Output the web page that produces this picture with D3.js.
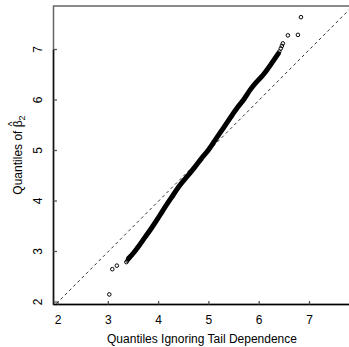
<!DOCTYPE html>
<html>
<head>
<meta charset="utf-8">
<script src="https://cdn.jsdelivr.net/npm/d3@7"></script>
<style>
  html, body { margin: 0; padding: 0; background: #fff; }
  text { font-family: "Liberation Sans", Arial, Helvetica, sans-serif; fill: #000; }
</style>
</head>
<body>
<div id="chart"></div>
<script>
// ticks
const xTicks = [2, 3, 4, 5, 6, 7];
const yTicks = [2, 3, 4, 5, 6, 7];

// dense middle of the Q-Q cloud
const bandX = [3.40, 3.50, 3.60, 3.72, 3.85, 3.97, 4.09, 4.25, 4.43, 4.58, 4.72, 4.85, 4.99, 5.12, 5.27, 5.42, 5.56, 5.70, 5.82, 5.96, 6.08, 6.15, 6.27, 6.38];
const bandY = [2.86, 2.97, 3.10, 3.27, 3.45, 3.63, 3.82, 4.06, 4.32, 4.50, 4.67, 4.84, 5.01, 5.20, 5.42, 5.64, 5.84, 6.02, 6.20, 6.37, 6.50, 6.59, 6.76, 6.92];

// sparse tail points
const tailX = [3.02, 3.08, 3.17, 3.36, 3.38, 3.40, 3.43, 3.47, 6.40, 6.43, 6.45, 6.47, 6.57, 6.77, 6.83];
const tailY = [2.15, 2.65, 2.72, 2.79, 2.82, 2.85, 2.88, 2.93, 6.96, 7.02, 7.07, 7.12, 7.28, 7.29, 7.64];

const W = 349, H = 347;
const plot = { left: 53.5, right: 352, top: 6, bottom: 304.5 };

const x = d3.scaleLinear().domain([2, 7]).range([58, 309.5]);
const y = d3.scaleLinear().domain([2, 7]).range([302, 49.5]);

const svg = d3.select('#chart').append('svg')
  .attr('width', W)
  .attr('height', H);

svg.append('defs').append('clipPath')
  .attr('id', 'clip')
  .append('rect')
  .attr('x', plot.left)
  .attr('y', plot.top)
  .attr('width', plot.right - plot.left)
  .attr('height', plot.bottom - plot.top);

const g = svg.append('g').attr('clip-path', 'url(#clip)');

// y = x reference line
g.append('line')
  .attr('x1', x(1.8)).attr('y1', y(1.8))
  .attr('x2', x(8)).attr('y2', y(8))
  .attr('stroke', '#333')
  .attr('stroke-width', 1)
  .attr('stroke-dasharray', '3,3');

// dense band
const line = d3.line()
  .x((d, i) => x(bandX[i]))
  .y((d, i) => y(bandY[i]))
  .curve(d3.curveMonotoneX);

g.append('path')
  .datum(bandX)
  .attr('d', line)
  .attr('fill', 'none')
  .attr('stroke', '#000')
  .attr('stroke-width', 5)
  .attr('stroke-linecap', 'round')
  .attr('stroke-linejoin', 'round');

// open circles
g.selectAll('circle.pt')
  .data(tailX)
  .enter()
  .append('circle')
  .attr('class', 'pt')
  .attr('cx', d => x(d))
  .attr('cy', (d, i) => y(tailY[i]))
  .attr('r', 1.8)
  .attr('fill', 'none')
  .attr('stroke', '#000')
  .attr('stroke-width', 1);

// box
svg.append('path')
  .attr('d', `M${plot.right},${plot.top}H${plot.left}V${plot.bottom}H${plot.right}`)
  .attr('fill', 'none')
  .attr('stroke', '#666')
  .attr('stroke-width', 1.5);

// axis lines (first to last tick)
svg.append('line')
  .attr('x1', plot.left).attr('x2', plot.left)
  .attr('y1', y(7)).attr('y2', plot.bottom)
  .attr('stroke', '#111').attr('stroke-width', 1.5);
svg.append('line')
  .attr('x1', plot.left).attr('x2', plot.right)
  .attr('y1', plot.bottom).attr('y2', plot.bottom)
  .attr('stroke', '#000').attr('stroke-width', 1.5);

// x ticks (inward)
svg.selectAll('line.xt')
  .data(xTicks)
  .enter()
  .append('line')
  .attr('class', 'xt')
  .attr('x1', d => x(d)).attr('x2', d => x(d))
  .attr('y1', plot.bottom).attr('y2', plot.bottom - 3.5)
  .attr('stroke', '#555').attr('stroke-width', 1.3);

svg.selectAll('text.xl')
  .data(xTicks)
  .enter()
  .append('text')
  .attr('class', 'xl')
  .attr('x', d => x(d))
  .attr('y', 324)
  .attr('text-anchor', 'middle')
  .attr('font-size', 12)
  .text(d => d);

// y ticks (inward)
svg.selectAll('line.yt')
  .data(yTicks)
  .enter()
  .append('line')
  .attr('class', 'yt')
  .attr('x1', plot.left).attr('x2', plot.left + 3.5)
  .attr('y1', d => y(d)).attr('y2', d => y(d))
  .attr('stroke', '#555').attr('stroke-width', 1.3);

svg.selectAll('text.yl')
  .data(yTicks)
  .enter()
  .append('text')
  .attr('class', 'yl')
  .attr('transform', d => `translate(42,${y(d)}) rotate(-90)`)
  .attr('text-anchor', 'middle')
  .attr('font-size', 12)
  .text(d => d);

// x title
svg.append('text')
  .attr('x', 202)
  .attr('y', 343)
  .attr('text-anchor', 'middle')
  .attr('font-size', 12)
  .text('Quantiles Ignoring Tail Dependence');

// y title with beta hat and subscript
const yt = svg.append('g').attr('transform', 'translate(22,155) rotate(-90)');
const t = yt.append('text').attr('font-size', 12);
t.append('tspan').text('Quantiles of ');
t.append('tspan').text('β');
t.append('tspan').attr('font-size', 9).attr('dy', 3).text('2');
const total = t.node().getComputedTextLength();
const pre = t.node().getSubStringLength(0, 13);
const bw = t.node().getSubStringLength(13, 1);
t.attr('x', -total / 2);
yt.append('text')
  .attr('x', -total / 2 + pre + bw / 2)
  .attr('y', -6)
  .attr('text-anchor', 'middle')
  .attr('font-size', 10)
  .text('^');
</script>
</body>
</html>
